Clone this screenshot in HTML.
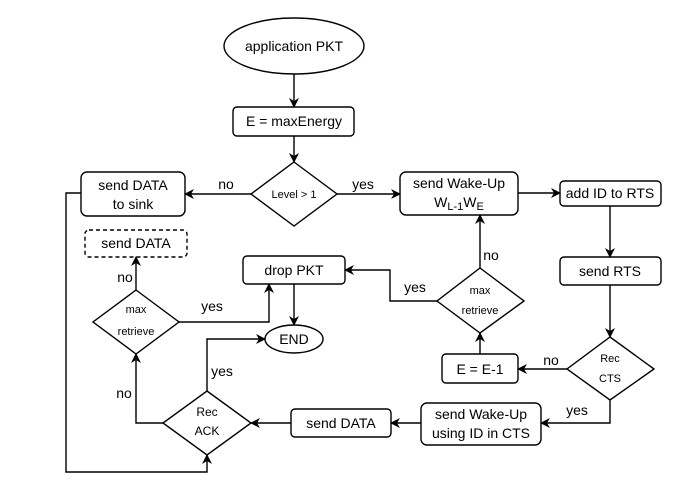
<!DOCTYPE html>
<html><head><meta charset="utf-8"><style>body{margin:0;background:#fff}svg{display:block}text{font-family:"Liberation Sans",sans-serif;fill:#000}</style></head><body>
<svg width="679" height="490" viewBox="0 0 679 490" xmlns="http://www.w3.org/2000/svg">
<defs><marker id="a" viewBox="0 0 10 10" refX="9" refY="5" markerWidth="10" markerHeight="10" markerUnits="userSpaceOnUse" orient="auto"><path d="M0,0 L10,5 L0,10 L3,5 Z" fill="#000"/></marker></defs>
<g fill="#fff" stroke="#000" stroke-width="1.4">
<ellipse cx="294" cy="46" rx="70" ry="28"/>
<rect x="233" y="107" width="121" height="29" rx="4"/>
<polygon points="294,162 337,194 294,226 251,194"/>
<rect x="81" y="172" width="104" height="44" rx="6"/>
<rect x="85" y="230" width="102" height="27" rx="4" stroke-dasharray="4,3"/>
<rect x="243" y="256" width="102" height="28" rx="4"/>
<polygon points="136,290 179,322 136,354 93,322"/>
<ellipse cx="294" cy="339" rx="29" ry="14"/>
<polygon points="207,391 251,423 207,455 163,423"/>
<rect x="291" y="409" width="100" height="28" rx="4"/>
<rect x="400" y="172" width="118" height="43" rx="6"/>
<rect x="560" y="181" width="101" height="25" rx="4"/>
<rect x="560" y="257" width="101" height="28" rx="4"/>
<polygon points="480,268 524,301 480,333 437,301"/>
<rect x="442" y="354" width="76" height="29" rx="4"/>
<polygon points="610,337 654,369 610,400 567,369"/>
<rect x="421" y="403" width="120" height="42" rx="6"/>
</g>
<g fill="none" stroke="#000" stroke-width="1.4" marker-end="url(#a)">
<path d="M294,74 V107"/>
<path d="M294,136 V162"/>
<path d="M337,194 H400"/>
<path d="M251,194 H185"/>
<path d="M518,193 H560"/>
<path d="M610,206 V257"/>
<path d="M610,285 V337"/>
<path d="M567,369 H518"/>
<path d="M480,354 V333"/>
<path d="M480,268 V215"/>
<path d="M437,301 H390 V270 H345"/>
<path d="M610,400 V423 H541"/>
<path d="M421,423 H391"/>
<path d="M291,423 H251"/>
<path d="M207,391 V339 H265"/>
<path d="M163,423 H136 V354"/>
<path d="M136,290 V257"/>
<path d="M179,322 H269 V284"/>
<path d="M294,284 V325"/>
<path d="M81,193 H66 V472 H207 V455"/>
</g>
<g font-size="14" text-anchor="middle">
<text x="294" y="51">application PKT</text>
<text x="294" y="126">E = maxEnergy</text>
<text x="294" y="198" font-size="11">Level &gt; 1</text>
<text x="133" y="190">send DATA</text>
<text x="133" y="209">to sink</text>
<text x="136" y="248">send DATA</text>
<text x="294" y="275">drop PKT</text>
<text x="136" y="313" font-size="11">max</text>
<text x="136" y="335" font-size="11">retrieve</text>
<text x="294" y="344">END</text>
<text x="207" y="416" font-size="12">Rec</text>
<text x="207" y="435" font-size="12">ACK</text>
<text x="341" y="428">send DATA</text>
<text x="459" y="188">send Wake-Up</text>
<text x="459" y="207">W<tspan font-size="11" dy="3">L-1</tspan><tspan dy="-3">W</tspan><tspan font-size="11" dy="3">E</tspan></text>
<text x="610" y="198">add ID to RTS</text>
<text x="610" y="276">send RTS</text>
<text x="480" y="294" font-size="11">max</text>
<text x="480" y="314" font-size="11">retrieve</text>
<text x="480" y="374">E = E-1</text>
<text x="610" y="362" font-size="11">Rec</text>
<text x="610" y="382" font-size="11">CTS</text>
<text x="481" y="419">send Wake-Up</text>
<text x="481" y="438">using ID in CTS</text>
<text x="226" y="189">no</text>
<text x="363" y="189">yes</text>
<text x="491" y="260">no</text>
<text x="415" y="292">yes</text>
<text x="551" y="365">no</text>
<text x="577" y="415">yes</text>
<text x="222" y="376">yes</text>
<text x="124" y="398">no</text>
<text x="125" y="282">no</text>
<text x="212" y="311">yes</text>
</g>
</svg>
</body></html>
